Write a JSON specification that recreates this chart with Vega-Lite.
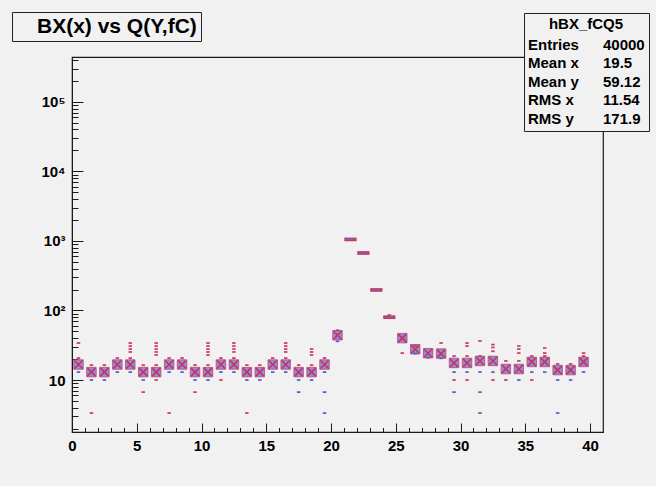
{
  "$schema": "https://vega.github.io/schema/vega-lite/v6.json",
  "width": 531,
  "height": 375,
  "autosize": {"type": "none"},
  "padding": {"left": 72, "top": 57, "right": 53, "bottom": 54},
  "background": "#f1f1f1",
  "config": {
    "view": {"stroke": "#1a1a1a", "strokeWidth": 1.2},
    "font": "Liberation Sans"
  },
  "datasets": {
    "main": [
      {"x": 0.5, "y": 16.7}, {"x": 1.5, "y": 13}, {"x": 2.5, "y": 13}, {"x": 3.5, "y": 16.7},
      {"x": 4.5, "y": 16.7}, {"x": 5.5, "y": 13}, {"x": 6.5, "y": 13}, {"x": 7.5, "y": 16.7},
      {"x": 8.5, "y": 16.7}, {"x": 9.5, "y": 13}, {"x": 10.5, "y": 13}, {"x": 11.5, "y": 16.7},
      {"x": 12.5, "y": 16.7}, {"x": 13.5, "y": 13}, {"x": 14.5, "y": 13}, {"x": 15.5, "y": 16.7},
      {"x": 16.5, "y": 16.7}, {"x": 17.5, "y": 13}, {"x": 18.5, "y": 13}, {"x": 19.5, "y": 16.7},
      {"x": 20.5, "y": 44}, {"x": 25.5, "y": 40}, {"x": 26.5, "y": 27.7}, {"x": 27.5, "y": 24.3},
      {"x": 28.5, "y": 24}, {"x": 29.5, "y": 17.6}, {"x": 30.5, "y": 17.6}, {"x": 31.5, "y": 18.8},
      {"x": 32.5, "y": 18.8}, {"x": 33.5, "y": 14.4}, {"x": 34.5, "y": 14.4}, {"x": 35.5, "y": 18.2},
      {"x": 36.5, "y": 18.2}, {"x": 37.5, "y": 13.9}, {"x": 38.5, "y": 13.9}, {"x": 39.5, "y": 18.2}
    ],
    "peak": [
      {"x": 21.5, "y": 1050}, {"x": 22.5, "y": 670}, {"x": 23.5, "y": 197}, {"x": 24.5, "y": 80}
    ],
    "minor": [
      {"x": 0.5, "y": 20.7, "c": "r"}, {"x": 0.5, "y": 13, "c": "b"}, {"x": 0.5, "y": 34, "c": "r"},
      {"x": 1.5, "y": 16.4, "c": "r"}, {"x": 1.5, "y": 10, "c": "b"}, {"x": 1.5, "y": 3.35, "c": "r"},
      {"x": 2.5, "y": 16.4, "c": "r"}, {"x": 2.5, "y": 10, "c": "b"},
      {"x": 3.5, "y": 20.7, "c": "r"}, {"x": 3.5, "y": 13, "c": "b"},
      {"x": 4.5, "y": 20.7, "c": "r"}, {"x": 4.5, "y": 13, "c": "b"}, {"x": 4.5, "y": 34, "c": "r"}, {"x": 4.5, "y": 30.8, "c": "r"}, {"x": 4.5, "y": 27.9, "c": "r"}, {"x": 4.5, "y": 25.3, "c": "r"},
      {"x": 5.5, "y": 16.4, "c": "r"}, {"x": 5.5, "y": 10, "c": "b"}, {"x": 5.5, "y": 6.7, "c": "r"},
      {"x": 6.5, "y": 16.4, "c": "r"}, {"x": 6.5, "y": 10, "c": "r"}, {"x": 6.5, "y": 34, "c": "r"}, {"x": 6.5, "y": 30.8, "c": "r"}, {"x": 6.5, "y": 27.9, "c": "r"}, {"x": 6.5, "y": 25.3, "c": "r"}, {"x": 6.5, "y": 22.9, "c": "r"},
      {"x": 7.5, "y": 20.7, "c": "r"}, {"x": 7.5, "y": 13, "c": "b"}, {"x": 7.5, "y": 3.35, "c": "r"},
      {"x": 8.5, "y": 20.7, "c": "r"}, {"x": 8.5, "y": 13, "c": "b"},
      {"x": 9.5, "y": 16.4, "c": "r"}, {"x": 9.5, "y": 10, "c": "b"}, {"x": 9.5, "y": 6.7, "c": "r"},
      {"x": 10.5, "y": 16.4, "c": "r"}, {"x": 10.5, "y": 10, "c": "b"}, {"x": 10.5, "y": 34, "c": "r"}, {"x": 10.5, "y": 30.8, "c": "r"}, {"x": 10.5, "y": 27.9, "c": "r"}, {"x": 10.5, "y": 25.3, "c": "r"}, {"x": 10.5, "y": 22.9, "c": "r"},
      {"x": 11.5, "y": 20.7, "c": "r"}, {"x": 11.5, "y": 13, "c": "b"}, {"x": 11.5, "y": 10, "c": "r"},
      {"x": 12.5, "y": 20.7, "c": "r"}, {"x": 12.5, "y": 13, "c": "b"}, {"x": 12.5, "y": 34, "c": "r"}, {"x": 12.5, "y": 30.8, "c": "r"}, {"x": 12.5, "y": 27.9, "c": "r"}, {"x": 12.5, "y": 25.3, "c": "r"},
      {"x": 13.5, "y": 16.4, "c": "r"}, {"x": 13.5, "y": 10, "c": "b"}, {"x": 13.5, "y": 3.35, "c": "r"},
      {"x": 14.5, "y": 16.4, "c": "r"}, {"x": 14.5, "y": 10, "c": "b"},
      {"x": 15.5, "y": 20.7, "c": "r"}, {"x": 15.5, "y": 13, "c": "b"},
      {"x": 16.5, "y": 20.7, "c": "r"}, {"x": 16.5, "y": 13, "c": "b"}, {"x": 16.5, "y": 34, "c": "r"}, {"x": 16.5, "y": 30.8, "c": "r"}, {"x": 16.5, "y": 27.9, "c": "r"}, {"x": 16.5, "y": 25.3, "c": "r"},
      {"x": 17.5, "y": 16.4, "c": "r"}, {"x": 17.5, "y": 10, "c": "b"}, {"x": 17.5, "y": 6.7, "c": "b"},
      {"x": 18.5, "y": 16.4, "c": "r"}, {"x": 18.5, "y": 10, "c": "b"}, {"x": 18.5, "y": 27.9, "c": "r"}, {"x": 18.5, "y": 25.3, "c": "r"}, {"x": 18.5, "y": 22.9, "c": "r"},
      {"x": 19.5, "y": 20.7, "c": "r"}, {"x": 19.5, "y": 13, "c": "b"}, {"x": 19.5, "y": 6.7, "c": "b"}, {"x": 19.5, "y": 3.35, "c": "b"},
      {"x": 20.5, "y": 36, "c": "b"}, {"x": 20.5, "y": 52, "c": "r"},
      {"x": 24.5, "y": 86, "c": "r"},
      {"x": 25.5, "y": 24.4, "c": "r"},
      {"x": 26.5, "y": 31, "c": "r"}, {"x": 26.5, "y": 24, "c": "b"},
      {"x": 27.5, "y": 21, "c": "b"},
      {"x": 28.5, "y": 34, "c": "r"}, {"x": 28.5, "y": 20.5, "c": "b"},
      {"x": 29.5, "y": 22.1, "c": "r"}, {"x": 29.5, "y": 13, "c": "b"}, {"x": 29.5, "y": 10, "c": "r"}, {"x": 29.5, "y": 6.7, "c": "b"},
      {"x": 30.5, "y": 34, "c": "r"}, {"x": 30.5, "y": 30.8, "c": "r"}, {"x": 30.5, "y": 22.1, "c": "r"}, {"x": 30.5, "y": 13, "c": "b"}, {"x": 30.5, "y": 10, "c": "r"},
      {"x": 31.5, "y": 36.4, "c": "r"}, {"x": 31.5, "y": 22.1, "c": "r"}, {"x": 31.5, "y": 13, "c": "b"}, {"x": 31.5, "y": 6.7, "c": "b"}, {"x": 31.5, "y": 3.35, "c": "b"},
      {"x": 32.5, "y": 32.3, "c": "r"}, {"x": 32.5, "y": 29.4, "c": "r"}, {"x": 32.5, "y": 25.9, "c": "r"}, {"x": 32.5, "y": 13, "c": "b"}, {"x": 32.5, "y": 10, "c": "r"},
      {"x": 33.5, "y": 18.8, "c": "r"}, {"x": 33.5, "y": 10, "c": "r"},
      {"x": 34.5, "y": 18.8, "c": "r"}, {"x": 34.5, "y": 30.8, "c": "r"}, {"x": 34.5, "y": 27.9, "c": "r"}, {"x": 34.5, "y": 24.4, "c": "r"}, {"x": 34.5, "y": 10, "c": "b"},
      {"x": 35.5, "y": 22.1, "c": "r"}, {"x": 35.5, "y": 13, "c": "b"}, {"x": 35.5, "y": 10, "c": "r"},
      {"x": 36.5, "y": 22.1, "c": "r"}, {"x": 36.5, "y": 28.9, "c": "r"}, {"x": 36.5, "y": 24.4, "c": "r"}, {"x": 36.5, "y": 13, "c": "b"},
      {"x": 37.5, "y": 17, "c": "r"}, {"x": 37.5, "y": 10, "c": "b"}, {"x": 37.5, "y": 3.35, "c": "b"},
      {"x": 38.5, "y": 17, "c": "r"}, {"x": 38.5, "y": 10, "c": "b"},
      {"x": 39.5, "y": 22.1, "c": "r"}, {"x": 39.5, "y": 24.4, "c": "r"}, {"x": 39.5, "y": 13, "c": "b"}
    ],
    "titlebox": [{"t": "\u00a0\u00a0BX(x) vs Q(Y,fC)\u00a0\u00a0\u00a0"}],
    "stats": [
      {"s": "Entries"}, {"s": "40000"}, {"s": "Mean x"}, {"s": "\u200719.5"}, {"s": "Mean y"},
      {"s": "59.12"}, {"s": "RMS x"}, {"s": "11.54"}, {"s": "RMS y"}, {"s": "171.9"}
    ]
  },
  "layer": [
    {
      "encoding": {
        "x": {
          "field": "x", "type": "quantitative",
          "scale": {"domain": [0, 41], "nice": false, "zero": false},
          "axis": {
            "title": null, "grid": false,
            "values": [0,1,2,3,4,5,6,7,8,9,10,11,12,13,14,15,16,17,18,19,20,21,22,23,24,25,26,27,28,29,30,31,32,33,34,35,36,37,38,39,40],
            "labelExpr": "datum.value % 5 === 0 ? datum.label : ''",
            "tickSize": {"condition": {"test": "datum.value % 5 === 0", "value": -9}, "value": -4.5},
            "tickColor": "#1a1a1a", "domainColor": "#1a1a1a", "tickWidth": 1,
            "labelFont": "Liberation Sans", "labelFontWeight": "bold", "labelFontSize": 15,
            "labelColor": "#000000", "labelPadding": 15, "labelFlush": false, "labelOverlap": false
          }
        },
        "y": {
          "field": "y", "type": "quantitative",
          "scale": {"type": "log", "domain": [1.79, 440000], "nice": false},
          "axis": {
            "title": null, "grid": false,
            "values": [2,3,4,5,6,7,8,9,10,20,30,40,50,60,70,80,90,100,200,300,400,500,600,700,800,900,1000,2000,3000,4000,5000,6000,7000,8000,9000,10000,20000,30000,40000,50000,60000,70000,80000,90000,100000,200000,300000,400000],
            "labelExpr": "datum.value === 10 ? '10' : datum.value === 100 ? '10²' : datum.value === 1000 ? '10³' : datum.value === 10000 ? '10⁴' : datum.value === 100000 ? '10⁵' : ''",
            "tickSize": {"condition": {"test": "datum.value === 10 || datum.value === 100 || datum.value === 1000 || datum.value === 10000 || datum.value === 100000", "value": -11}, "value": -6},
            "tickColor": "#1a1a1a", "domainColor": "#1a1a1a", "tickWidth": 1,
            "labelFont": "Liberation Sans", "labelFontWeight": "bold", "labelFontSize": 15,
            "labelColor": "#000000", "labelPadding": 18, "labelOverlap": false, "labelFlush": false
          }
        }
      },
      "layer": [
        {
          "data": {"name": "main"},
          "mark": {"type": "point", "shape": "square", "filled": true, "size": 90, "fill": "#8e8fd6", "stroke": "#c24070", "strokeWidth": 0.8, "opacity": 1}
        },
        {
          "data": {"name": "main"},
          "mark": {"type": "point", "shape": "M-1,-1L1,1M1,-1L-1,1", "filled": false, "size": 64, "stroke": "#c8305e", "strokeWidth": 1.6, "opacity": 1}
        },
        {
          "data": {"name": "peak"},
          "mark": {"type": "point", "shape": "M-1,-0.3H1V0.3H-1Z", "filled": true, "size": 150, "fill": "#c8385a", "opacity": 1}
        },
        {
          "data": {"name": "peak"},
          "mark": {"type": "point", "shape": "M-0.7,-0.1H0.7V0.1H-0.7Z", "filled": true, "size": 150, "fill": "#6070c8", "opacity": 1}
        },
        {
          "data": {"name": "minor"},
          "mark": {"type": "point", "shape": "M-1,-0.5H1V0.5H-1Z", "filled": true, "size": 12, "opacity": 1},
          "encoding": {
            "fill": {"field": "c", "type": "nominal", "scale": {"domain": ["b", "r"], "range": ["#4f5fc8", "#d03a5a"]}, "legend": null}
          }
        }
      ]
    },
    {
      "data": {"name": "titlebox"},
      "mark": {"type": "point", "opacity": 0},
      "encoding": {
        "stroke": {
          "field": "t", "type": "nominal",
          "scale": {"range": ["#000000"]},
          "legend": {
            "orient": "none", "legendX": -60, "legendY": -45, "title": null,
            "labelFont": "Liberation Sans", "labelFontWeight": "bold", "labelFontSize": 21, "labelColor": "#000000",
            "symbolSize": 0.01, "symbolOpacity": 0, "symbolStrokeWidth": 0, "labelOffset": 0,
            "padding": 4, "fillColor": "#f1f1f1", "strokeColor": "#222222", "labelLimit": 400
          }
        }
      }
    },
    {
      "data": {"name": "stats"},
      "mark": {"type": "point", "opacity": 0},
      "encoding": {
        "shape": {
          "field": "s", "type": "nominal",
          "scale": {"domain": ["Entries", "Mean x", "Mean y", "RMS x", "RMS y", "40000", "\u200719.5", "59.12", "11.54", "171.9"], "range": ["circle"]},
          "legend": {
            "orient": "none", "legendX": 452, "legendY": -44, "title": "hBX_fCQ5",
            "titleFont": "Liberation Sans", "titleFontWeight": "bold", "titleFontSize": 15, "titleColor": "#000000",
            "titleAnchor": "middle", "titlePadding": 5,
            "labelFont": "Liberation Sans", "labelFontWeight": "bold", "labelFontSize": 15, "labelColor": "#000000",
            "columns": 2, "columnPadding": 24, "rowPadding": 2.5,
            "symbolSize": 0.01, "symbolOpacity": 0, "symbolStrokeWidth": 0, "labelOffset": -15,
            "padding": 4, "fillColor": "#f1f1f1", "strokeColor": "#222222", "labelLimit": 200
          }
        }
      }
    }
  ]
}
